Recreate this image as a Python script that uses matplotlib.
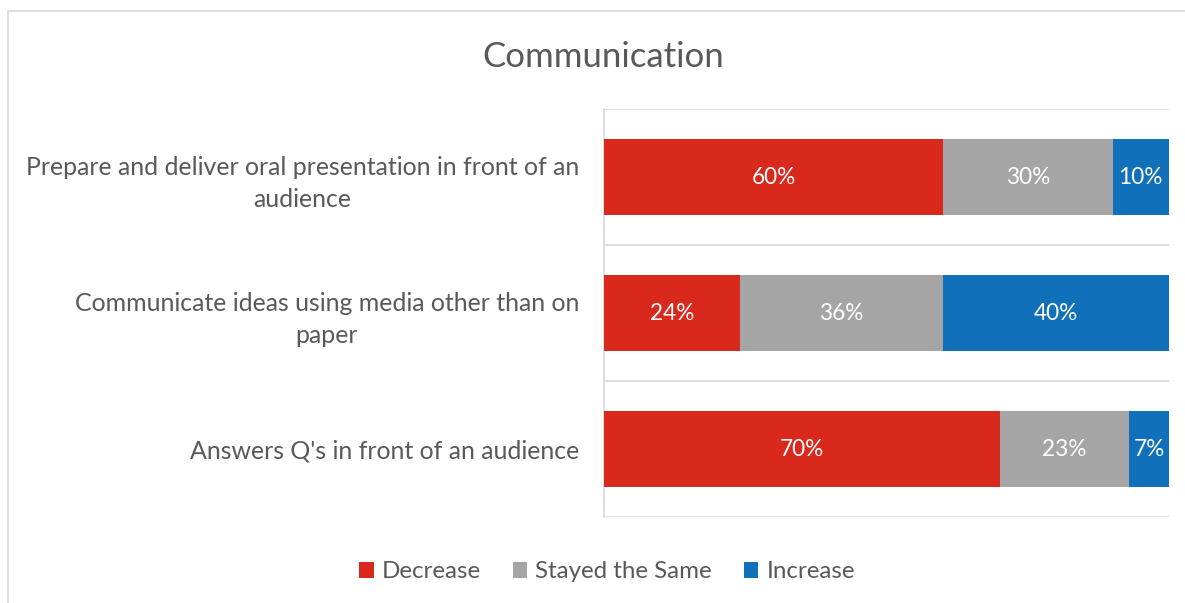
import matplotlib.pyplot as plt
from matplotlib.patches import Rectangle

plt.rcParams['font.family'] = ['Lato', 'DejaVu Sans']

TEXT = "#595959"
GRID = "#D9D9D9"

categories = [
    "Prepare and deliver oral presentation in front of an\naudience",
    "Communicate ideas using media other than on\npaper",
    "Answers Q's in front of an audience",
]
decrease = [60, 24, 70]
same = [30, 36, 23]
increase = [10, 40, 7]
series_names = ["Decrease", "Stayed the Same", "Increase"]
colors = ["#D9291C", "#A5A5A5", "#1071BA"]

fig = plt.figure(figsize=(11.85, 6.03), dpi=100)
fig.patch.set_facecolor("white")

# outer chart border (only left/top visible in the reference)
fig.add_artist(Rectangle((8 / 1185, -0.1), 1.2, 1 - 11 / 603 + 0.1,
                         transform=fig.transFigure, fill=False,
                         edgecolor=GRID, lw=1.2))

ax = fig.add_axes([604 / 1185, 1 - 517 / 603, 565 / 1185, 408 / 603])

y = list(range(len(categories)))
left = [0] * len(categories)
for name, vals, col in zip(series_names, [decrease, same, increase], colors):
    bars = ax.barh(y, vals, left=left, height=0.566, color=col, label=name, zorder=3)
    ax.bar_label(bars, labels=[f"{v}%" for v in vals], label_type='center',
                 color="white", fontsize=16.3)
    left = [l + v for l, v in zip(left, vals)]

ax.set_xlim(0, 100)
ax.set_ylim(2.5, -0.5)
for yy in [-0.5, 0.5, 1.5, 2.5]:
    ax.axhline(yy, color=GRID, lw=1.2, zorder=1)

ax.set_yticks(y)
ax.set_yticklabels(categories, fontsize=17.9, color=TEXT, ha='right',
                   multialignment='center', linespacing=1.45)
ax.tick_params(axis='y', length=0, pad=18)
ax.set_xticks([])
for s in ['top', 'right', 'bottom']:
    ax.spines[s].set_visible(False)
ax.spines['left'].set_color(GRID)
ax.spines['left'].set_linewidth(1.2)

fig.text(603 / 1185, 1 - 57 / 603, "Communication", ha='center', va='center',
         fontsize=25, color=TEXT)

fig.legend(loc='center', bbox_to_anchor=(607 / 1185, 1 - 572 / 603), ncol=3,
           frameon=False, fontsize=17.4, labelcolor=TEXT,
           handlelength=0.6, handleheight=0.6, handletextpad=0.35,
           columnspacing=1.3)

fig.savefig("out.png", dpi=100, facecolor="white")
